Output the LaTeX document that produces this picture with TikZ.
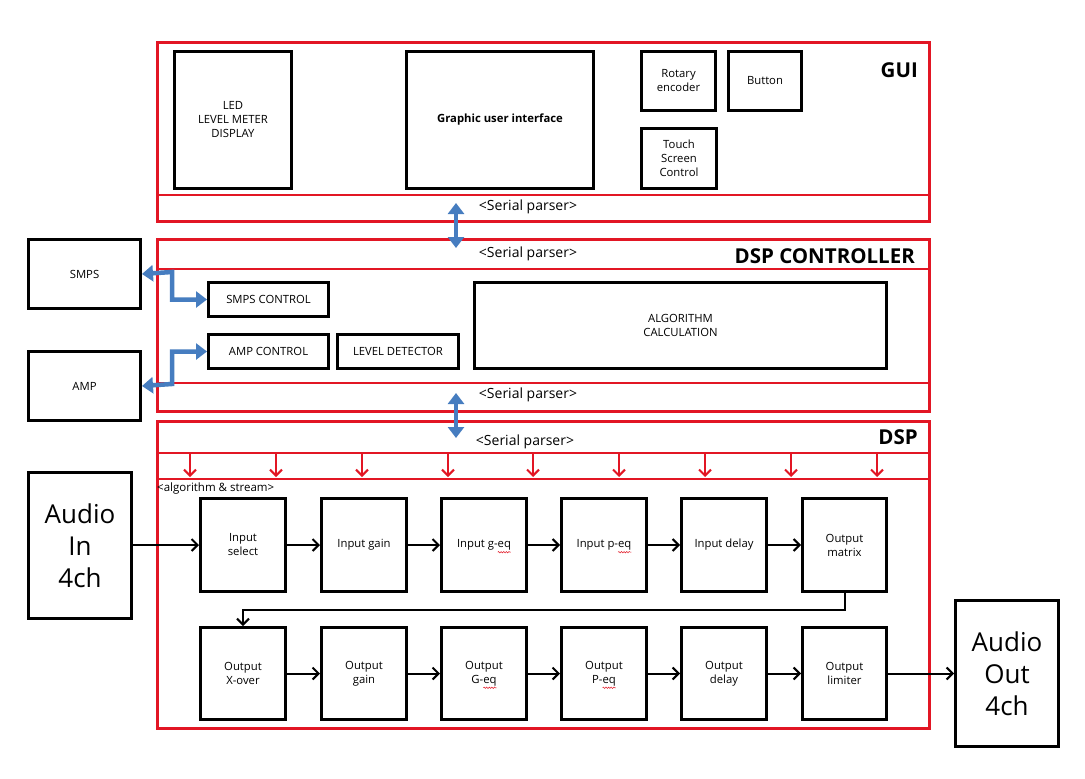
\documentclass[tikz,border=0pt]{standalone}
\usepackage{fontspec}
\setmainfont{Open Sans}
\usetikzlibrary{arrows.meta,decorations.pathmorphing}
\definecolor{myred}{RGB}{226,22,36}
\definecolor{myblue}{RGB}{70,125,192}
\newcommand\sqg[1]{\tikz[baseline=(w.base)]{\node[inner sep=0pt,outer sep=0pt,minimum width=0pt,minimum height=0pt,anchor=base,draw=none,fill=none] (w) at (0,0) {#1};\draw[overlay,myred,line width=0.5pt,decorate,decoration={snake,amplitude=0.7pt,segment length=2.6pt}] ([yshift=-1.8pt]w.south west) -- ([yshift=-1.8pt]w.south east);}}
\newcommand\bx[7][]{\node[box,#1,anchor=north west,minimum width={(#4-#2)*1pt},minimum height={(#5-#3)*1pt}] (#6) at (#2,#3) {#7};}
\newcommand\fr[5]{\node[frame,anchor=north west,minimum width={(#4-#2)*1pt},minimum height={(#5-#3)*1pt}] (#1) at (#2,#3) {};}
\begin{document}
\begin{tikzpicture}[x=1pt,y=-1pt,
  box/.style={draw=black,line width=3pt,inner sep=1pt,align=center,font=\fontsize{11.3}{14}\selectfont},
  frame/.style={draw=myred,line width=2.8pt,inner sep=0pt},
  rline/.style={draw=myred,line width=2.8pt},
  sp/.style={font=\fontsize{14}{16}\selectfont,inner sep=0pt},
  ttl/.style={font=\fontsize{20.5}{22}\selectfont\bfseries,anchor=east,inner sep=0pt},
  barrow/.style={draw=myblue,line width=4.5pt,line join=miter,{Triangle[width=16pt,length=11pt]}-{Triangle[width=16pt,length=11pt]}},
  rarrow/.style={draw=myred,line width=2pt,-{Straight Barb[length=6pt,width=12pt,line width=2pt]}},
  karrow/.style={draw=black,line width=2pt,-{Straight Barb[length=6pt,width=12pt,line width=2pt]}},
  big/.style={font=\fontsize{26}{32}\selectfont}]
\useasboundingbox[fill=white] (0,0) rectangle (1085,779);

% ---------- GUI ----------
\fr{gui}{156}{41}{928}{220}
\draw[rline] (156,195) -- (928,195);
\node[ttl] (guil) at (918,70) {GUI};
\bx{173}{50}{290}{187}{led}{LED\\LEVEL METER\\DISPLAY}
\bx{405}{50}{592}{187}{gi}{\textbf{Graphic user interface}}
\bx{640}{50}{714}{109}{rot}{Rotary\\encoder}
\bx{727}{50}{800}{109}{btn}{Button}
\bx{640}{127}{715}{187}{tsc}{Touch\\Screen\\Control}
\node[sp] (sp1) at (528,207) {<Serial parser>};

% ---------- DSP CONTROLLER ----------
\fr{ctl}{156}{238}{928}{410}
\draw[rline] (156,269) -- (928,269);
\draw[rline] (156,383) -- (928,383);
\node[ttl] (ctll) at (915,256) {DSP CONTROLLER};
\node[sp] (sp2) at (528,254) {<Serial parser>};
\node[sp] (sp3) at (528,395) {<Serial parser>};
\bx{207}{281}{327}{315}{smpsc}{SMPS CONTROL}
\bx{207}{333}{327}{367}{ampc}{AMP CONTROL}
\bx{336}{333}{457}{367}{lvl}{LEVEL DETECTOR}
\bx{473}{281}{885}{367}{alg}{ALGORITHM\\CALCULATION}

% external SMPS / AMP
\bx{27}{238}{139}{307}{smps}{SMPS}
\bx{27}{350}{139}{419}{amp}{AMP}

% ---------- DSP ----------
\fr{dsp}{156}{420}{928}{727}
\draw[rline] (156,453) -- (928,453);
\draw[rline] (156,479) -- (928,479);
\node[ttl] (dspl) at (918,437) {DSP};
\node[sp] (sp4) at (525,442) {<Serial parser>};
\node[font=\fontsize{11.5}{13}\selectfont,anchor=west,inner sep=0pt] (alst) at (157,489) {<algorithm \& stream>};
\foreach \x [count=\i] in {190,276,362,448,533,619,705,791,877}{
  \coordinate (ra\i) at (\x,454);
  \coordinate (rb\i) at (\x,477);
  \draw[rarrow] (ra\i) -- (rb\i);
}

% row 1
\bx{199}{497}{284}{590}{isel}{Input\\select}
\bx{320}{497}{405}{590}{igain}{Input gain}
\bx{440}{497}{525}{590}{igeq}{Input g-\sqg{eq}}
\bx{560}{497}{645}{590}{ipeq}{Input p-\sqg{eq}}
\bx{680}{497}{765}{590}{idel}{Input delay}
\bx{801}{497}{885}{590}{omat}{Output\\matrix}
% row 2
\bx{199}{626}{284}{718}{oxo}{Output\\X-over}
\bx{320}{626}{405}{718}{ogain}{Output\\gain}
\bx{440}{626}{525}{718}{ogeq}{Output\\G-\sqg{eq}}
\bx{560}{626}{645}{718}{opeq}{Output\\P-\sqg{eq}}
\bx{680}{626}{765}{718}{odel}{Output\\delay}
\bx{801}{626}{885}{718}{olim}{Output\\limiter}

% audio in/out
\bx[big]{27}{471}{130}{617}{ain}{Audio\\In\\4ch}
\bx[big]{954}{599}{1057}{745}{aout}{Audio\\Out\\4ch}

% ---------- connectors ----------
\coordinate (b1a) at (456,203);
\coordinate (b1b) at (456,248);
\draw[barrow] (b1a) -- (b1b);
\coordinate (b2a) at (456,393);
\coordinate (b2b) at (456,438);
\draw[barrow] (b2a) -- (b2b);
\draw[barrow] (smps.east) -- (172,272) |- (smpsc.west);
\draw[barrow] (amp.east) -- (172,384) |- (ampc.west);

\draw[karrow] (ain.east |- isel.west) -- (isel.west);
\draw[karrow] (isel) -- (igain);
\draw[karrow] (igain) -- (igeq);
\draw[karrow] (igeq) -- (ipeq);
\draw[karrow] (ipeq) -- (idel);
\draw[karrow] (idel) -- (omat);
\draw[karrow] (omat.south) -- ++(0,17) -| (oxo.north);
\draw[karrow] (oxo) -- (ogain);
\draw[karrow] (ogain) -- (ogeq);
\draw[karrow] (ogeq) -- (opeq);
\draw[karrow] (opeq) -- (odel);
\draw[karrow] (odel) -- (olim);
\draw[karrow] (olim.east) -- (olim.east -| aout.west);
\end{tikzpicture}
\end{document}
